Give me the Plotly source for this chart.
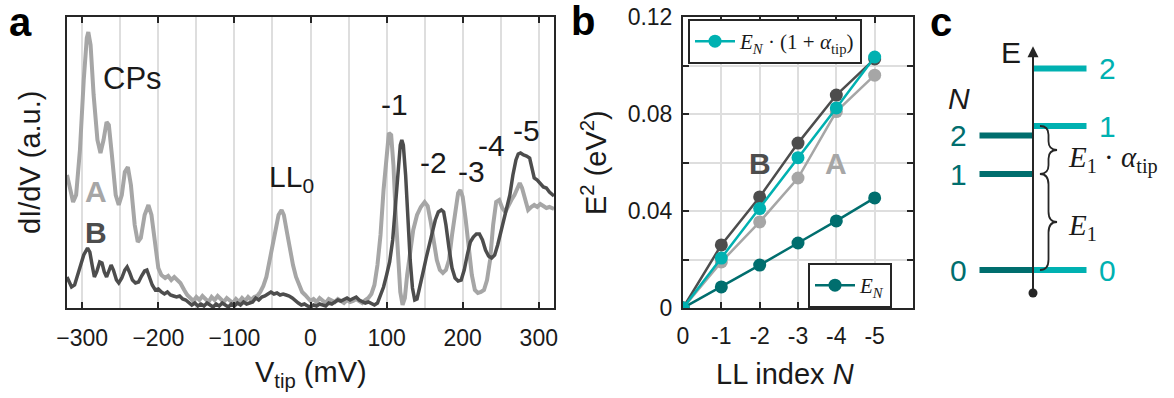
import plotly.graph_objects as go

W, H = 1174, 398

# ---------------- Panel a data (V_tip in mV, dI/dV in a.u.) ----------------
vA = [-320,-316,-312,-308,-303,-298,-294,-292,-289,-285,-280,-276,-272,-268,-265,-261,-256,-252,-248,-244,
      -240,-236,-231,-227,-223,-218,-213,-209,-204,-200,-196,-191,-187,-183,-179,-175,-171,-166,-162,-158,
      -154,-150,-146,-142,-138,-134,-130,-126,-122,-118,-114,-110,-106,-102,-98,-94,-90,-86,-82,-78,
      -74,-70,-66,-62,-58,-54,-50,-46,-42,-38,-35,-31,-27,-23,-19,-15,-11,-7,-3,0,
      4,8,12,16,20,24,28,32,36,40,44,48,52,56,60,64,68,72,76,80,
      84,88,92,96,100,103,106,109,112,115,118,121,124,127,131,135,140,145,150,154,
      158,162,166,170,174,178,182,186,190,194,197,200,204,208,212,216,220,224,228,232,
      236,240,244,248,252,256,260,264,268,272,275,278,282,286,290,294,298,302,306,310,314,320]
pxA = [175,190,202,195,150,80,38,32,45,95,140,153,140,122,125,155,195,205,195,172,
       167,185,225,242,238,215,205,215,245,268,275,278,276,280,277,280,283,290,295,298,
       301,297,300,296,299,302,297,300,296,299,302,298,301,303,299,302,298,301,297,300,
       297,296,292,286,277,262,245,228,215,210,215,232,250,265,277,285,292,295,298,301,
       299,302,298,300,303,299,301,302,299,301,303,300,302,301,299,301,303,300,298,294,
       285,265,235,190,150,133,135,165,215,262,292,305,298,275,250,230,215,207,202,206,
       222,242,260,270,273,270,260,235,210,193,190,197,220,250,275,290,293,292,290,280,
       260,225,202,200,208,212,205,200,195,188,183,188,200,210,207,205,207,204,206,208,207,209]
dIdV_A = [round((308 - p) / 100, 3) for p in pxA]

vB = [-320,-317,-314,-310,-306,-302,-298,-293,-290,-287,-284,-281,-277,-274,-271,-268,-265,-262,-259,-255,
      -252,-248,-244,-241,-238,-234,-230,-226,-222,-218,-215,-212,-208,-204,-200,-196,-192,-188,-184,-180,
      -176,-172,-168,-164,-160,-156,-152,-148,-144,-140,-136,-132,-128,-124,-120,-116,-112,-108,-104,-100,
      -96,-92,-88,-84,-80,-76,-72,-68,-64,-60,-56,-52,-48,-44,-40,-36,-32,-28,-24,-20,
      -16,-12,-8,-4,0,4,8,12,16,20,24,28,32,36,40,44,48,52,56,60,
      64,68,72,76,80,84,88,92,96,100,104,108,112,115,118,120,122,125,128,131,
      134,137,140,144,148,152,156,160,164,168,172,175,178,182,186,190,194,198,202,206,
      210,214,218,222,226,230,234,238,242,246,250,254,258,262,266,270,273,276,280,284,
      288,291,294,298,302,306,310,314,320]
pxB = [277,283,287,285,275,262,255,248,252,265,277,272,262,263,272,277,270,265,270,280,
       283,278,270,267,272,280,283,282,276,271,270,276,285,290,289,292,294,292,295,296,
       297,296,299,300,302,305,303,306,304,306,303,305,307,304,306,303,305,307,304,306,
       303,305,302,304,303,302,298,300,297,296,294,292,294,293,295,294,295,296,298,301,
       303,305,304,306,307,305,306,304,305,306,303,304,302,300,301,299,298,300,298,297,
       300,302,303,302,304,305,303,296,287,275,262,240,200,168,145,140,145,175,220,260,
       288,300,299,287,272,258,245,232,220,212,210,212,225,248,268,278,281,280,270,255,
       242,237,234,234,240,250,256,258,255,245,232,218,208,195,175,160,154,153,155,156,
       158,168,178,180,184,187,188,192,196]
dIdV_B = [round((308 - p) / 100, 3) for p in pxB]

# ---------------- Panel b data ----------------
LL_N = [0, 1, 2, 3, 4, 5]
LL_labels = ["0", "-1", "-2", "-3", "-4", "-5", ""]
E2_B = [0, 0.026, 0.0458, 0.068, 0.0878, 0.1027]
E2_A = [0, 0.019, 0.0355, 0.0536, 0.081, 0.096]
E2_tip = [0, 0.0206, 0.041, 0.062, 0.0825, 0.1035]
E2_EN = [0, 0.0087, 0.0177, 0.0268, 0.0359, 0.0454]

# ---------------- Panel c data (energies in units of E1) ----------------
level_N = [0, 1, 2]
E_sample = [0.0, 1.0, 1.4]
E_tip = [0.0, 1.5, 2.1]

A_COL = "#a6a6a6"
B_COL = "#4d4d4d"
TEAL = "#00b1b1"
DTEAL = "#006e6e"
INK = "#1a1a1a"
AX = "#262626"
GRID = "#dedede"
SANS = "Liberation Sans, Arial, sans-serif"
SERIF = "Liberation Serif, DejaVu Serif, serif"


def px(x):
    return x / W


def py(y):
    return 1 - y / H


fig = go.Figure()

# Panel a traces
fig.add_trace(go.Scatter(x=vA, y=dIdV_A, mode="lines", line=dict(color=A_COL, width=4),
                         showlegend=False, xaxis="x", yaxis="y"))
fig.add_trace(go.Scatter(x=vB, y=dIdV_B, mode="lines", line=dict(color=B_COL, width=3.5),
                         showlegend=False, xaxis="x", yaxis="y"))

# Panel b traces
mk = dict(size=13)
fig.add_trace(go.Scatter(x=LL_N, y=E2_A, mode="lines+markers", line=dict(color=A_COL, width=2.5),
                         marker=dict(color=A_COL, **mk), showlegend=False, xaxis="x2", yaxis="y2"))
fig.add_trace(go.Scatter(x=LL_N, y=E2_B, mode="lines+markers", line=dict(color=B_COL, width=2.5),
                         marker=dict(color=B_COL, **mk), showlegend=False, xaxis="x2", yaxis="y2"))
fig.add_trace(go.Scatter(x=LL_N, y=E2_EN, mode="lines+markers", line=dict(color=DTEAL, width=2.5),
                         marker=dict(color=DTEAL, **mk), name="<i>E</i><sub><i>N</i></sub>",
                         legend="legend2", xaxis="x2", yaxis="y2"))
fig.add_trace(go.Scatter(x=LL_N, y=E2_tip, mode="lines+markers", line=dict(color=TEAL, width=2.5),
                         marker=dict(color=TEAL, **mk),
                         name="<i>E</i><sub><i>N</i></sub> · (1 + <i>α</i><sub>tip</sub>)",
                         legend="legend", xaxis="x2", yaxis="y2"))

# Panel c: energy levels
xs, ys = [], []
for e in E_sample:
    xs += [-1, 0, None]
    ys += [e, e, None]
fig.add_trace(go.Scatter(x=xs, y=ys, mode="lines", line=dict(color=DTEAL, width=6),
                         showlegend=False, xaxis="x3", yaxis="y3", hoverinfo="skip"))
xs, ys = [], []
for e in E_tip:
    xs += [0, 1, None]
    ys += [e, e, None]
fig.add_trace(go.Scatter(x=xs, y=ys, mode="lines", line=dict(color=TEAL, width=6),
                         showlegend=False, xaxis="x3", yaxis="y3", hoverinfo="skip"))
fig.add_trace(go.Scatter(x=[0], y=[-0.24], mode="markers", marker=dict(color=AX, size=9),
                         showlegend=False, xaxis="x3", yaxis="y3", hoverinfo="skip"))

ann = []


def txt(x, y, t, size, color=INK, xref="paper", yref="paper", bold=False, font=SANS,
        xanchor="center", yanchor="middle", angle=0):
    if bold:
        t = "<b>" + t + "</b>"
    ann.append(dict(x=x, y=y, xref=xref, yref=yref, text=t, showarrow=False,
                    font=dict(size=size, color=color, family=font),
                    xanchor=xanchor, yanchor=yanchor, textangle=angle))


# panel letters
txt(px(20), py(22), "a", 40, bold=True, color="#000")
txt(px(583), py(21), "b", 40, bold=True, color="#000")
txt(px(941), py(22), "c", 40, bold=True, color="#000")

# axis titles
txt(px(30), py(163), "dI/dV (a.u.)", 29, angle=-90)
txt(px(311), py(374), "V<sub>tip</sub> (mV)", 29)
txt(px(594), py(162), "E<sup>2</sup> (eV<sup>2</sup>)", 29, angle=-90)
txt(px(785), py(374), "LL index <i>N</i>", 29)

# panel a labels (data coords)
txt(-234, 2.30, "CPs", 31, xref="x", yref="y")
txt(-282, 1.17, "A", 30, color=A_COL, xref="x", yref="y", bold=True)
txt(-282, 0.76, "B", 30, color=B_COL, xref="x", yref="y", bold=True)
txt(-25, 1.30, "LL<sub>0</sub>", 30, xref="x", yref="y")
for lab, xv, yv in [("-1", 110, 2.04), ("-2", 162, 1.46), ("-3", 212, 1.37),
                    ("-4", 238, 1.63), ("-5", 284, 1.78)]:
    txt(xv, yv, lab, 30, xref="x", yref="y")

# panel b labels
txt(2.0, 0.0594, "B", 30, color=B_COL, xref="x2", yref="y2", bold=True)
txt(4.0, 0.0594, "A", 30, color=A_COL, xref="x2", yref="y2", bold=True)

# panel c labels
for n, e in zip(level_N, E_sample):
    txt(-1.39, e, str(n), 30, color=DTEAL, xref="x3", yref="y3")
for n, e in zip(level_N, E_tip):
    txt(1.39, e, str(n), 30, color=TEAL, xref="x3", yref="y3")
txt(-1.39, 1.79, "<i>N</i>", 30, xref="x3", yref="y3")
txt(-0.41, 2.27, "E", 30, xref="x3", yref="y3")
txt(0.62, 1.15, "<i>E</i><sub>1</sub> · <i>α</i><sub>tip</sub>", 29, xref="x3", yref="y3",
    font=SERIF, xanchor="left")
txt(0.62, 0.45, "<i>E</i><sub>1</sub>", 29, xref="x3", yref="y3", font=SERIF, xanchor="left")

# arrow (energy axis)
ann.append(dict(x=0, y=2.33, ax=0, ay=-0.24, xref="x3", yref="y3", axref="x3", ayref="y3",
                text="", showarrow=True, arrowhead=2, arrowsize=1.1, arrowwidth=2,
                arrowcolor=AX))


def brace(y0, y1, xe=0.13, xs_=0.29, xt=0.45, c=0.11):
    ym = (y0 + y1) / 2
    return (f"M {xe},{y0} Q {xs_},{y0} {xs_},{y0 + c} L {xs_},{ym - c} "
            f"Q {xs_},{ym} {xt},{ym} Q {xs_},{ym} {xs_},{ym + c} "
            f"L {xs_},{y1 - c} Q {xs_},{y1} {xe},{y1}")


shapes = [
    dict(type="path", xref="x3", yref="y3", path=brace(E_sample[0], E_sample[1]),
         line=dict(color=AX, width=1.8)),
    dict(type="path", xref="x3", yref="y3", path=brace(E_sample[1], E_tip[1], c=0.09),
         line=dict(color=AX, width=1.8)),
]

axcommon = dict(showline=True, linecolor=AX, linewidth=2, mirror="ticks", ticks="inside",
                ticklen=6, tickwidth=1.5, tickcolor=AX, zeroline=False, automargin=False,
                tickfont=dict(size=23, color=INK, family=SANS))

# panel c axis: 53.5 px per E-unit horizontally, centred on the arrow at x=1033 px
C_L, C_R = 925, 1150
fig.update_layout(
    width=W, height=H, margin=dict(l=0, r=0, t=0, b=0, pad=0, autoexpand=False),
    paper_bgcolor="white", plot_bgcolor="white",
    font=dict(family=SANS, color=INK),
    xaxis=dict(domain=[px(67), px(554)], range=[-320, 320], tickvals=[-300, -200, -100, 0, 100, 200, 300],
               showgrid=True, gridcolor=GRID, gridwidth=2,
               minor=dict(tickvals=[-250, -150, -50, 50, 150, 250], showgrid=True, gridcolor=GRID,
                          gridwidth=2, ticks=""),
               ticklabelstandoff=8, **axcommon),
    yaxis=dict(domain=[py(308), py(17)], range=[0, 2.91], showticklabels=False, showgrid=False,
               **{k: v for k, v in axcommon.items() if k not in ("ticks",)}, ticks=""),
    xaxis2=dict(domain=[px(683), px(913)], range=[0, 6], tickvals=[0, 1, 2, 3, 4, 5, 6],
                ticktext=LL_labels, showgrid=True, gridcolor=GRID, gridwidth=2,
                ticklabelstandoff=6, anchor="y2", **axcommon),
    yaxis2=dict(domain=[py(308), py(17)], range=[0, 0.12],
                tickvals=[0, 0.02, 0.04, 0.06, 0.08, 0.10, 0.12],
                ticktext=["0", "", "0.04", "", "0.08", "", "0.12"],
                showgrid=True, gridcolor=GRID, gridwidth=2, anchor="x2",
                ticklabelstandoff=4, **axcommon),
    xaxis3=dict(domain=[px(C_L), px(C_R)], range=[(C_L - 1033) / 53.5, (C_R - 1033) / 53.5],
                visible=False, anchor="y3", automargin=False),
    yaxis3=dict(domain=[0, 1], range=[-1.3333, 2.8125], visible=False, anchor="x3", automargin=False),
    legend=dict(x=px(688), y=py(19), xanchor="left", yanchor="top", bgcolor="white",
                bordercolor=AX, borderwidth=2, font=dict(size=21, family=SERIF, color=INK),
                itemwidth=40, tracegroupgap=0),
    legend2=dict(x=px(808), y=py(263), xanchor="left", yanchor="top", bgcolor="white",
                 bordercolor=AX, borderwidth=2, font=dict(size=21, family=SERIF, color=INK),
                 itemwidth=40, tracegroupgap=0),
    annotations=ann, shapes=shapes,
)

fig.write_html("out.html")
